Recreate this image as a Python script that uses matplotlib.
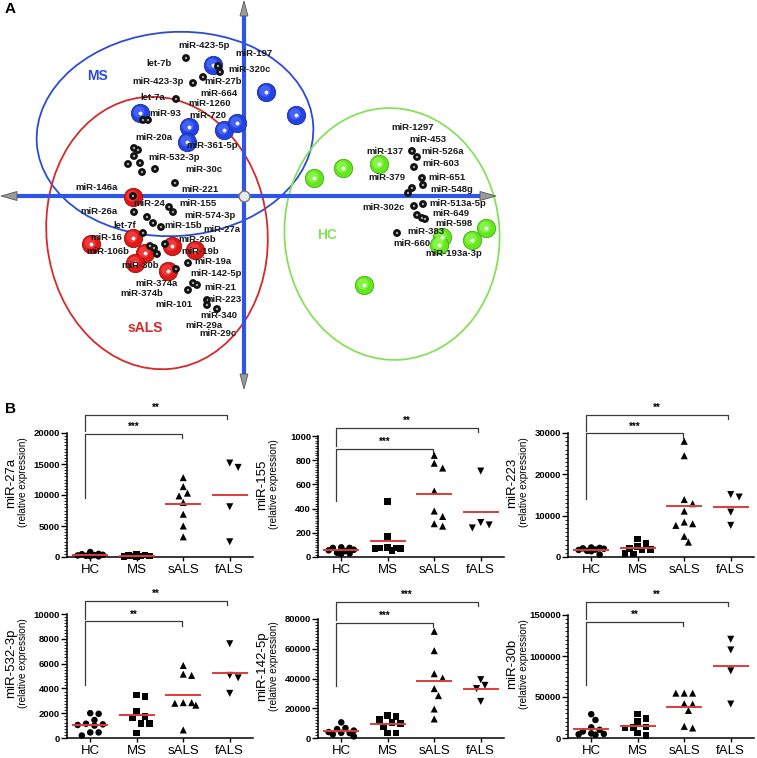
import numpy as np
import matplotlib
matplotlib.use("Agg")
import matplotlib.pyplot as plt
from matplotlib.patches import Ellipse, Polygon
from matplotlib.ticker import MultipleLocator, AutoMinorLocator

plt.rcParams['font.family'] = ['Liberation Sans', 'DejaVu Sans']

# ---------------- Panel A: 3D score plot (units: origin at axis crossing) ----------------
ms_x = [-0.31, 0.22, 0.52, -1.04, -0.55, -0.57, -0.20, -0.07]
ms_y = [1.31, 1.04, 0.81, 0.83, 0.69, 0.54, 0.66, 0.73]
sals_x = [-1.11, -1.53, -1.11, -0.99, -1.09, -0.72, -0.49, -0.76]
sals_y = [-0.01, -0.48, -0.42, -0.57, -0.67, -0.50, -0.54, -0.75]
hc_x = [0.70, 0.99, 1.35, 1.98, 1.95, 2.28, 2.42, 1.20]
hc_y = [0.18, 0.28, 0.32, -0.41, -0.49, -0.44, -0.32, -0.89]

mir_x = [-0.58, -0.26, -0.24, -0.41, -0.51, -0.68, -1.01, -0.96, -1.10, -1.06,
         -1.10, -1.16, -1.04, -1.02, -0.89, -0.69, -1.11, -0.75, -0.71, -1.10,
         -0.97, -0.91, -0.83, -1.01, -0.94, -0.90, -0.87, -0.79, -0.56, -0.68,
         -0.51, -0.47, -0.56, -0.37, -0.37, -0.27,
         1.68, 1.73, 1.70, 1.78, 1.79, 1.68, 1.64, 1.70, 1.79, 1.73, 1.78, 1.81, 1.53]
mir_y = [1.38, 1.30, 1.24, 1.19, 1.13, 0.97, 0.76, 0.76, 0.48, 0.46,
         0.40, 0.32, 0.33, 0.24, 0.27, 0.13, 0.00, -0.11, -0.16, -0.16,
         -0.21, -0.27, -0.31, -0.37, -0.50, -0.52, -0.58, -0.48, -0.67, -0.73,
         -0.87, -0.89, -0.94, -1.04, -1.09, -1.13,
         0.45, 0.39, 0.29, 0.18, 0.11, 0.08, 0.03, -0.10, -0.08, -0.19, -0.22, -0.23, -0.37]

mir_labels = [
    ("miR-423-5p", -0.40, 1.50), ("miR-197", 0.10, 1.43), ("let-7b", -0.85, 1.32),
    ("miR-320c", 0.06, 1.27), ("miR-423-3p", -0.86, 1.15), ("miR-27b", -0.21, 1.15),
    ("miR-664", -0.25, 1.03), ("let-7a", -0.91, 0.99), ("miR-1260", -0.34, 0.92),
    ("miR-93", -0.79, 0.83), ("miR-720", -0.36, 0.80), ("miR-20a", -0.90, 0.59),
    ("miR-361-5p", -0.32, 0.51), ("miR-532-3p", -0.70, 0.39), ("miR-30c", -0.40, 0.27),
    ("miR-221", -0.44, 0.07), ("miR-146a", -1.47, 0.09), ("miR-24", -0.95, -0.07),
    ("miR-155", -0.46, -0.07), ("miR-26a", -1.45, -0.16), ("miR-574-3p", -0.34, -0.19),
    ("let-7f", -1.19, -0.29), ("miR-15b", -0.61, -0.30), ("miR-27a", -0.22, -0.33),
    ("miR-16", -1.38, -0.42), ("miR-106b", -1.36, -0.55), ("miR-26b", -0.47, -0.43),
    ("miR-19b", -0.44, -0.56), ("miR-30b", -1.04, -0.70), ("miR-19a", -0.31, -0.66),
    ("miR-142-5p", -0.28, -0.77), ("miR-374a", -0.87, -0.87), ("miR-21", -0.24, -0.92),
    ("miR-374b", -1.02, -0.98), ("miR-223", -0.21, -1.03), ("miR-101", -0.70, -1.08),
    ("miR-340", -0.25, -1.20), ("miR-29a", -0.40, -1.29), ("miR-29c", -0.26, -1.37),
    ("miR-1297", 1.69, 0.68), ("miR-453", 1.84, 0.57), ("miR-137", 1.41, 0.45),
    ("miR-526a", 1.99, 0.45), ("miR-603", 1.97, 0.33), ("miR-379", 1.43, 0.18),
    ("miR-651", 2.03, 0.19), ("miR-548g", 2.08, 0.07), ("miR-302c", 1.40, -0.11),
    ("miR-513a-5p", 2.14, -0.07), ("miR-649", 2.07, -0.17), ("miR-598", 2.10, -0.27),
    ("miR-383", 1.82, -0.36), ("miR-660", 1.68, -0.48), ("miR-193a-3p", 2.10, -0.57),
]

# ---------------- Panel B: relative expression ----------------
groups = ["HC", "MS", "sALS", "fALS"]
mirs = ["miR-27a", "miR-155", "miR-223", "miR-532-3p", "miR-142-5p", "miR-30b"]

hc_vals = [
    [800, 500, 450, 350, 300, 250, 200, 150, 100],
    [80, 75, 75, 60, 55, 50, 35, 30, 25],
    [2300, 2200, 2100, 2000, 1800, 1700, 1500, 1400, 600],
    [2000, 1950, 1450, 1150, 1100, 1050, 1000, 450, 450, 200],
    [10500, 6700, 6000, 5000, 4000, 3500, 3300, 2500, 1100],
    [29000, 22000, 13000, 10000, 8000, 5500, 5000, 4500, 4000],
]
ms_vals = [
    [400, 350, 250, 200, 150, 150, 100, 50],
    [460, 170, 80, 75, 75, 70, 70, 55],
    [4400, 3300, 2500, 2000, 1800, 1700, 800, 700],
    [3450, 3350, 2150, 1750, 1600, 1150, 1150, 400],
    [15200, 14600, 12300, 10500, 9600, 7800, 3400, 3400],
    [29000, 24000, 20000, 13500, 13000, 12000, 6000, 3000],
]
sals_vals = [
    [12800, 11350, 10300, 9850, 8800, 6900, 5000, 3250],
    [840, 775, 735, 545, 380, 335, 275, 255],
    [28000, 24500, 13900, 12900, 11100, 8450, 8050, 7650, 5000, 3600],
    [5850, 5150, 5050, 2850, 2850, 2800, 2650, 650],
    [71700, 58700, 43200, 40300, 33200, 28500, 19500, 12800],
    [54700, 54700, 54700, 41800, 41300, 33600, 14200, 12200],
]
fals_vals = [
    [15150, 14450, 8100, 2450],
    [710, 285, 265, 240],
    [15100, 14500, 10850, 7650],
    [7600, 5050, 4850, 3600],
    [39200, 35400, 33200, 24600],
    [120400, 107400, 81900, 41400],
]
y_max = [20000, 1000, 30000, 10000, 80000, 150000]
y_step = [5000, 200, 10000, 2000, 20000, 50000]
stars_top = ["**", "**", "**", "**", "***", "**"]   # HC vs fALS
stars_low = ["***", "***", "***", "**", "***", "**"]  # HC vs sALS

# layout (pixels of the 757x758 figure)
W, H = 757, 758
col_left = [67, 318, 568]
row_bottom = [557, 738]
ax_h = [124, 121, 124, 124, 119, 123]
ax_w = 186
br_top = [1.145, 1.068, 1.147, 1.107, 1.143, 1.108]
br_low = [0.995, 0.895, 0.997, 0.94, 0.968, 0.946]
br_leg = [0.476, 0.46, 0.47, 0.43, 0.434, 0.432]

fig = plt.figure(figsize=(W / 100, H / 100), dpi=100)

# ---------- Panel A ----------
axa = fig.add_axes([0, 1 - 390 / H, 1, 390 / H])
axa.set_xlim(-2.44, 5.13)
axa.set_ylim(-1.94, 1.96)
axa.axis("off")

axa.add_patch(Ellipse((-0.69, 0.62), 2.77, 2.04, angle=4, fill=False, ec="#2c4bd6", lw=1.3, zorder=2))
axa.add_patch(Ellipse((-0.87, -0.37), 2.21, 2.73, angle=6, fill=False, ec="#d42a2a", lw=1.3, zorder=2))
axa.add_patch(Ellipse((1.48, -0.38), 2.15, 2.52, angle=4, fill=False, ec="#86e05a", lw=1.3, zorder=2))

axc = "#2f55e6"
axa.plot([-2.30, 2.38], [0, 0], color=axc, lw=3, solid_capstyle="butt", zorder=3)
axa.plot([0, 0], [-1.80, 1.82], color=axc, lw=3, solid_capstyle="butt", zorder=3)
cone = dict(fc="#9a9a9a", ec="#555555", lw=0.6, zorder=3.5)
axa.add_patch(Polygon([[2.52, 0], [2.36, 0.045], [2.36, -0.045]], **cone))
axa.add_patch(Polygon([[-2.43, 0], [-2.27, 0.045], [-2.27, -0.045]], **cone))
axa.add_patch(Polygon([[0, 1.95], [-0.04, 1.80], [0.04, 1.80]], **cone))
axa.add_patch(Polygon([[0, -1.93], [-0.04, -1.78], [0.04, -1.78]], **cone))
axa.scatter([0], [0], s=60, color="#e8e8e8", edgecolors="#777777", linewidths=1.0, zorder=5)


def spheres(xs, ys, base, light, edge):
    xs = np.asarray(xs)
    ys = np.asarray(ys)
    axa.scatter(xs, ys, s=175, color=base, edgecolors=edge, linewidths=0.6, zorder=4)
    axa.scatter(xs - 0.01, ys + 0.01, s=65, color=light, edgecolors="none", alpha=0.6, zorder=4.1)
    axa.scatter(xs, ys, s=3, color="white", zorder=4.2)


spheres(ms_x, ms_y, "#2443e6", "#5a78ff", "#1a2e99")
spheres(sals_x, sals_y, "#e01818", "#ff5050", "#991010")
spheres(hc_x, hc_y, "#62e81c", "#9cff60", "#48a818")

axa.scatter(mir_x, mir_y, s=32, color="#111111", edgecolors="none", zorder=6)
axa.scatter(mir_x, mir_y, s=3, color="#aaaaaa", edgecolors="none", zorder=6.1)

for name, lx, ly in mir_labels:
    axa.text(lx, ly, name, fontsize=6.8, fontweight="bold", color="#1a1a1a",
             ha="center", va="center", zorder=7)

axa.text(-1.47, 1.20, "MS", color="#2c4bd6", fontsize=10, fontweight="bold", ha="center", va="center")
axa.text(-0.99, -1.32, "sALS", color="#d42a2a", fontsize=10, fontweight="bold", ha="center", va="center")
axa.text(0.83, -0.39, "HC", color="#86e05a", fontsize=10, fontweight="bold", ha="center", va="center")

fig.text(5 / W, 1 - 9 / H, "A", fontsize=11, fontweight="bold", ha="left", va="center")
fig.text(5 / W, 1 - 409 / H, "B", fontsize=11, fontweight="bold", ha="left", va="center")


# ---------- Panel B ----------
def swarm(vals, ymax, h_px, unit_px=46.5, d_px=7.0, max_px=16):
    # spread tied points sideways, Prism-style, within +-max_px
    ys = np.asarray(vals, dtype=float) / ymax * h_px
    order = np.argsort(-ys)
    placed = []
    offs = np.zeros(len(ys))
    step = d_px * 0.6
    cands = [0.0]
    j = 1
    while j * step <= max_px:
        cands += [j * step, -j * step]
        j += 1
    for i in order:
        best, best_d = 0.0, -1
        for cx in cands:
            dmin = min([np.hypot(cx - px, ys[i] - py) for px, py in placed] + [99])
            if dmin >= d_px:
                best = cx
                break
            if dmin > best_d:
                best, best_d = cx, dmin
        placed.append((best, ys[i]))
        offs[i] = best / unit_px
    return offs


markers = ["o", "s", "^", "v"]
for k in range(6):
    r, c = divmod(k, 3)
    left = col_left[c]
    bottom = row_bottom[r]
    ax = fig.add_axes([left / W, 1 - bottom / H, ax_w / W, ax_h[k] / H])
    ax.set_xlim(-0.5, 3.5)
    ax.set_ylim(0, y_max[k])
    data = [hc_vals[k], ms_vals[k], sals_vals[k], fals_vals[k]]
    for g, vals in enumerate(data):
        offs = swarm(vals, y_max[k], ax_h[k])
        ax.scatter(g + offs, vals, marker=markers[g], s=22 if g < 2 else 26,
                   color="black", edgecolors="none", zorder=3, clip_on=False)
        m = np.mean(vals)
        ax.plot([g - 0.37, g + 0.37], [m, m], color="#e03a3a", lw=1.4, zorder=4, clip_on=False)

    for s in ["top", "right"]:
        ax.spines[s].set_visible(False)
    for s in ["left", "bottom"]:
        ax.spines[s].set_linewidth(1.1)
    ax.yaxis.set_major_locator(MultipleLocator(y_step[k]))
    ax.yaxis.set_minor_locator(AutoMinorLocator(10 if k != 3 else 8))
    ax.tick_params(axis="y", which="major", length=4, width=1.0, labelsize=6.8, pad=1)
    ax.tick_params(axis="y", which="minor", length=2, width=0.6)
    for lab in ax.get_yticklabels():
        lab.set_fontweight("bold")
    ax.set_xticks(range(4))
    ax.set_xticklabels(groups, fontsize=9.5)
    ax.tick_params(axis="x", length=3, width=1.0, pad=2)

    ax.text(-0.30, 0.6, mirs[k], transform=ax.transAxes, rotation=90,
            fontsize=9.5, ha="center", va="center")
    ax.text(-0.235, 0.6, "(relative expression)", transform=ax.transAxes, rotation=90,
            fontsize=7.2, ha="center", va="center")

    tr = ax.get_xaxis_transform()
    bc = "#3a3a3a"
    x0 = -0.12
    tick = 0.035
    # HC vs fALS
    ax.plot([x0, x0, 2.95, 2.95], [br_low[k] + 0.02 if br_top[k] - br_low[k] > 0.12 else br_low[k],
                                    br_top[k], br_top[k], br_top[k] - tick],
            transform=tr, color=bc, lw=0.9, clip_on=False)
    ax.text((x0 + 2.95) / 2, br_top[k] + 0.015, stars_top[k], transform=tr,
            ha="center", va="bottom", fontsize=7, fontweight="bold")
    # HC vs sALS
    ax.plot([x0, x0, 1.98, 1.98], [br_leg[k], br_low[k], br_low[k], br_low[k] - tick],
            transform=tr, color=bc, lw=0.9, clip_on=False)
    ax.text((x0 + 1.98) / 2, br_low[k] + 0.015, stars_low[k], transform=tr,
            ha="center", va="bottom", fontsize=7, fontweight="bold")

fig.savefig("out.png", dpi=100)
